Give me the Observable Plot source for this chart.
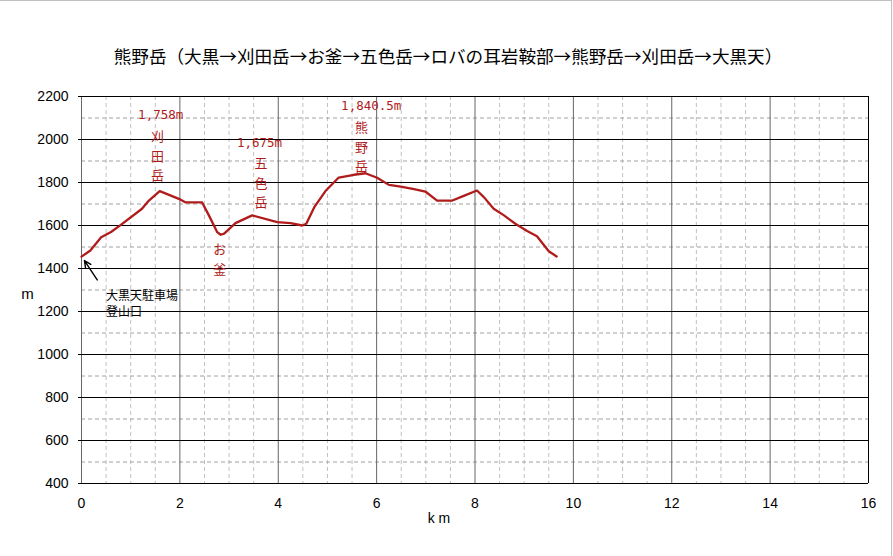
<!DOCTYPE html>
<html>
<head>
<meta charset="utf-8">
<script src="https://cdn.jsdelivr.net/npm/d3@7"></script>
<script src="https://cdn.jsdelivr.net/npm/@observablehq/plot@0.6"></script>
<style>
  html, body { margin: 0; padding: 0; background: #fff; }
  #chart { position: relative; width: 893px; height: 556px; overflow: hidden; }
  #chart svg { display: block; }
  .edge { position: absolute; background: #c0c0c0; }
</style>
</head>
<body>
<div id="chart">
  <div class="edge" style="left:0;top:0;width:892px;height:1px"></div>
  <div class="edge" style="left:891px;top:0;width:1px;height:556px"></div>
</div>
<script>
// ---- Data ----
const titleText = "熊野岳（大黒→刈田岳→お釜→五色岳→ロバの耳岩鞍部→熊野岳→刈田岳→大黒天）";

// distance (km) and elevation (m) along the route
const distKm = [0.00, 0.18, 0.40, 0.60, 0.80, 1.23, 1.37, 1.59, 1.98, 2.11, 2.45, 2.59, 2.76, 2.83, 2.90, 3.13, 3.47, 3.98, 4.25, 4.49, 4.57, 4.74, 4.97, 5.23, 5.54, 5.77, 6.01, 6.25, 6.49, 6.76, 6.99, 7.23, 7.54, 7.77, 8.04, 8.18, 8.38, 8.59, 8.82, 9.06, 9.26, 9.50, 9.66];
const elevM  = [1455, 1484, 1545, 1570, 1603, 1678, 1716, 1760, 1724, 1708, 1708, 1647, 1569, 1557, 1562, 1611, 1647, 1616, 1611, 1600, 1608, 1688, 1763, 1823, 1836, 1843, 1822, 1789, 1781, 1769, 1758, 1716, 1716, 1738, 1763, 1732, 1678, 1647, 1608, 1574, 1550, 1480, 1456];

// axis ticks and grid positions
const xTicks = [0, 2, 4, 6, 8, 10, 12, 14, 16];
const xGridMajor = [0, 2, 4, 6, 8, 10, 12, 14];
const xGridMinor = [0.5, 1, 1.5, 2.5, 3, 3.5, 4.5, 5, 5.5, 6.5, 7, 7.5, 8.5, 9, 9.5, 10.5, 11, 11.5, 12.5, 13, 13.5, 14.5, 15, 15.5];
const yTicks = [400, 600, 800, 1000, 1200, 1400, 1600, 1800, 2000, 2200];
const yGridMinor = [500, 700, 900, 1100, 1300, 1500, 1700, 1900, 2100];

// peak annotations (red)
const peakLabel = ["1,758m", "1,675m", "1,840.5m"];
const peakLabelX = [1.61, 3.62, 5.89];
const peakLabelY = [2116, 1985, 2158];
const nameLabel = ["刈\n田\n岳", "五\n色\n岳", "お\n釜", "熊\n野\n岳"];
const nameLabelX = [1.545, 3.65, 2.81, 5.69];
const nameLabelY = [1930, 1805, 1451, 1972];

// trailhead annotation (black)
const startLabel = ["大黒天駐車場\n登山口"];
const startLabelX = [0.50];
const startLabelY = [1242];
const arrowFromX = [0.32], arrowFromY = [1347], arrowToX = [0.06], arrowToY = [1437];

// ---- Build tables ----
const profile = distKm.map((d, i) => ({km: d, m: elevM[i]}));
const peaks = peakLabel.map((t, i) => ({t, x: peakLabelX[i], y: peakLabelY[i]}));
const names = nameLabel.map((t, i) => ({t, x: nameLabelX[i], y: nameLabelY[i]}));
const starts = startLabel.map((t, i) => ({t, x: startLabelX[i], y: startLabelY[i]}));
const arrows = arrowFromX.map((d, i) => ({x1: d, y1: arrowFromY[i], x2: arrowToX[i], y2: arrowToY[i]}));

const red = "#b01c1c";
const cjk = "'Noto Sans CJK JP', sans-serif";

const chart = Plot.plot({
  width: 893,
  height: 556,
  marginLeft: 81,
  marginRight: 25,
  marginTop: 96,
  marginBottom: 73,
  style: {fontFamily: "'Liberation Sans', sans-serif", fontSize: "14px", background: "#fff", color: "#000"},
  x: {domain: [0, 16]},
  y: {domain: [400, 2200]},
  marks: [
    Plot.ruleX(xGridMinor, {stroke: "#c0c0c0", strokeDasharray: "4,3"}),
    Plot.ruleY(yGridMinor, {stroke: "#a0a0a0", strokeDasharray: "4,3"}),
    Plot.ruleX(xGridMajor, {stroke: "#666"}),
    Plot.ruleX([16], {stroke: "#000"}),
    Plot.ruleY(yTicks, {stroke: "#000"}),
    Plot.axisX({ticks: xTicks, tickSize: 0, tickPadding: 15, label: null, fontSize: 14, tickFormat: d => String(d)}),
    Plot.axisY({ticks: yTicks, tickSize: 3, tickPadding: 10, label: null, fontSize: 14, tickFormat: d => String(d)}),
    Plot.line(profile, {x: "km", y: "m", stroke: red, strokeWidth: 2.3, strokeLinejoin: "round"}),
    Plot.text(peaks, {x: "x", y: "y", text: "t", fill: red, fontFamily: "'DejaVu Sans Mono', monospace", fontSize: 12.5}),
    Plot.text(names, {x: "x", y: "y", text: "t", fill: red, fontFamily: cjk, fontSize: 13, lineHeight: 1.5}),
    Plot.text(starts, {x: "x", y: "y", text: "t", fill: "#000", fontFamily: cjk, fontSize: 12, lineHeight: 1.33, textAnchor: "start"}),
    Plot.arrow(arrows, {x1: "x1", y1: "y1", x2: "x2", y2: "y2", stroke: "#000", strokeWidth: 1.4, headLength: 8, headAngle: 50}),
    Plot.text([titleText], {frameAnchor: "top", text: d => d, dy: -39, dx: -27, fontFamily: cjk, fontSize: 17.6, lineAnchor: "middle"}),
    Plot.text(["m"], {frameAnchor: "left", text: d => d, dx: -54, dy: 4, fontSize: 15, textAnchor: "middle"}),
    Plot.text(["k m"], {frameAnchor: "bottom", text: d => d, dx: -36, dy: 35, fontSize: 14, lineAnchor: "middle"})
  ]
});

document.getElementById("chart").appendChild(chart);
</script>
</body>
</html>
